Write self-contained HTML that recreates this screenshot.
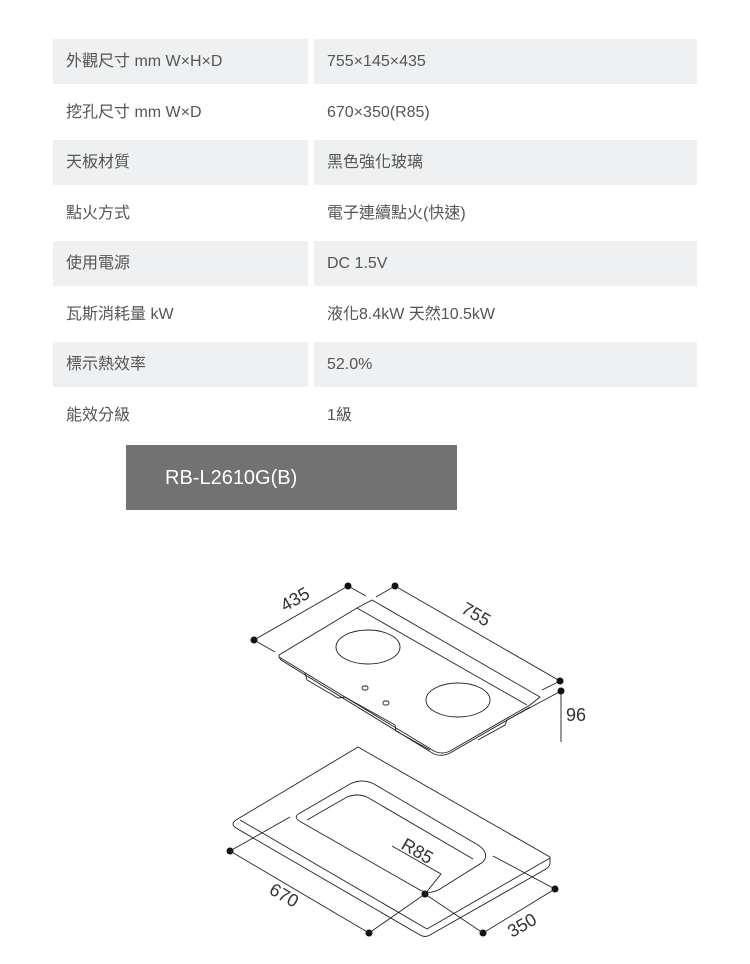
<!DOCTYPE html>
<html><head><meta charset="utf-8"><style>
body{margin:0;width:750px;height:964px;background:#fff;position:relative;font-family:"Liberation Sans","Noto Sans CJK TC",sans-serif;color:#555;overflow:hidden}
.c{position:absolute;height:45px;line-height:45px;font-size:16px;box-sizing:border-box}
.l{left:53px;width:255px;padding-left:13px}
.v{left:314px;width:383px;padding-left:13px}
.g{background:#eef0f1}
.ban{position:absolute;left:126px;top:445px;width:331px;height:65px;background:#737272;color:#fff;font-size:20px;line-height:67px;padding-left:39px;box-sizing:border-box}
svg{position:absolute;left:0;top:0}
</style></head><body>
<div class="c l g" style="top:39px">外觀尺寸 mm W×H×D</div><div class="c v g" style="top:39px">755×145×435</div>
<div class="c l" style="top:90px">挖孔尺寸 mm W×D</div><div class="c v" style="top:90px">670×350(R85)</div>
<div class="c l g" style="top:140px">天板材質</div><div class="c v g" style="top:140px">黑色強化玻璃</div>
<div class="c l" style="top:191px">點火方式</div><div class="c v" style="top:191px">電子連續點火(快速)</div>
<div class="c l g" style="top:241px">使用電源</div><div class="c v g" style="top:241px">DC 1.5V</div>
<div class="c l" style="top:292px">瓦斯消耗量 kW</div><div class="c v" style="top:292px">液化8.4kW 天然10.5kW</div>
<div class="c l g" style="top:342px">標示熱效率</div><div class="c v g" style="top:342px">52.0%</div>
<div class="c l" style="top:393px">能效分級</div><div class="c v" style="top:393px">1級</div>
<div class="ban">RB-L2610G(B)</div>
<svg width="750" height="964" viewBox="0 0 750 964" fill="none" stroke="#222" stroke-width="0.9">
<!-- hob -->
<path d="M279,655 L357,608 L372,600 L540,697 L530,705 L450,751 Q442,755 434,751 L279,657 Z"/>
<path d="M357,608 L527,705"/>
<path d="M279,657 L281,660 L434,754 Q442,757 450,753 L530,707"/>
<path d="M305,673 L307,680 L338,698 L345,697 L395,725 L396,731 L430,750"/>
<path d="M478,740 L505,725 L507,720"/>
<ellipse cx="368" cy="647" rx="32" ry="17"/>
<ellipse cx="458" cy="700" rx="32" ry="17"/>
<rect x="362" y="686" width="6" height="4" rx="2"/>
<rect x="383" y="701" width="6" height="4" rx="2"/>
<!-- dims top -->
<path d="M254,640 L348,586 L366,596 M254,640 L275,652 M395,586 L376,597 M395,586 L560,681 L542,690 M561,691 L561,742 M561,691 L507,720"/>
<g fill="#111" stroke="none">
<circle cx="254" cy="640" r="3.5"/><circle cx="348" cy="586" r="3.5"/><circle cx="395" cy="586" r="3.5"/><circle cx="560" cy="681" r="3.5"/><circle cx="561" cy="691" r="3.5"/>
<circle cx="230" cy="851" r="3.5"/><circle cx="369" cy="933" r="3.5"/><circle cx="425" cy="894" r="3.5"/><circle cx="483" cy="933" r="3.5"/><circle cx="555" cy="889" r="3.5"/>
</g>
<!-- board -->
<path d="M236,820 L358,747 L550,857 L550,864 Q549,867 546,869 L430,935 Q425,938 420,935 L236,828 Q230,824 236,820 Z"/>
<path d="M240,820 L427,929 L550,858"/>
<path d="M300,813 L350,784 Q362,778 374,784 L478,845 Q490,853 483,862 L440,889 Q430,895 420,890 L301,822 Q292,817 300,813 Z"/>
<path d="M307,820 L347,797 Q357,793 367,797 L473,859"/>
<!-- dims bottom -->
<path d="M230,851 L290,817 M230,851 L369,933 L425,894 L483,933 L555,889 L493,856 M392,846 L441,874 L425,894"/>
<g fill="#333" stroke="none" font-family="Liberation Sans,sans-serif" font-size="18">
<text transform="translate(285,612) rotate(-30)">435</text>
<text transform="translate(460,612) rotate(30)">755</text>
<text x="566" y="721">96</text>
<text transform="translate(400,848) rotate(30)">R85</text>
<text transform="translate(268,893) rotate(30)">670</text>
<text transform="translate(512,938) rotate(-30)">350</text>
</g>
</svg>
</body></html>
